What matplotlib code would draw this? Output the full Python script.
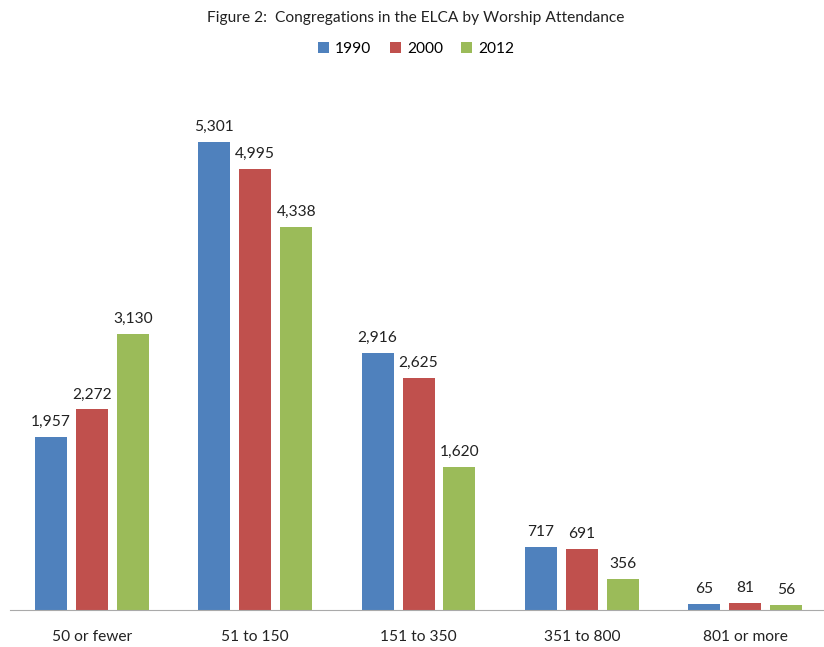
import numpy as np
import matplotlib.pyplot as plt

plt.rcParams['font.family'] = ['Lato', 'DejaVu Sans']

categories = ["50 or fewer", "51 to 150", "151 to 350", "351 to 800", "801 or more"]
years = ["1990", "2000", "2012"]
v1990 = [1957, 5301, 2916, 717, 65]
v2000 = [2272, 4995, 2625, 691, 81]
v2012 = [3130, 4338, 1620, 356, 56]
colors = ["#4F81BD", "#C0504D", "#9BBB59"]

fig = plt.figure(figsize=(8.24, 6.47), dpi=100)
ax = fig.add_axes([0.0126, 0.057, 0.9906, 0.819])

x = np.arange(len(categories))
width = 0.196
step = 0.251
for i, (vals, lab) in enumerate(zip([v1990, v2000, v2012], years)):
    pos = x + (i - 1) * step
    ax.bar(pos, vals, width, color=colors[i], label=lab)
    for p, v in zip(pos, vals):
        ax.text(p, v + 90, f"{v:,}", ha="center", va="bottom", fontsize=11.2, color="#222222")

ax.set_xlim(-0.5, len(categories) - 0.5)
ax.set_ylim(0, 6000)
ax.set_xticks(x)
ax.set_xticklabels(categories, fontsize=11.2, color="#222222")
ax.tick_params(axis="x", length=0, pad=14)
ax.set_yticks([])
for s in ["top", "right", "left"]:
    ax.spines[s].set_visible(False)
ax.spines["bottom"].set_color("#AAAAAA")

fig.text(0.505, 0.972, "Figure 2:  Congregations in the ELCA by Worship Attendance",
         ha="center", va="center", fontsize=11.2, color="#222222")
fig.legend(loc="center", bbox_to_anchor=(0.505, 0.925), ncol=3, frameon=False,
           fontsize=11.2, handlelength=0.7, handleheight=0.7, handletextpad=0.4,
           columnspacing=1.2)

fig.savefig("out.png", dpi=100)
